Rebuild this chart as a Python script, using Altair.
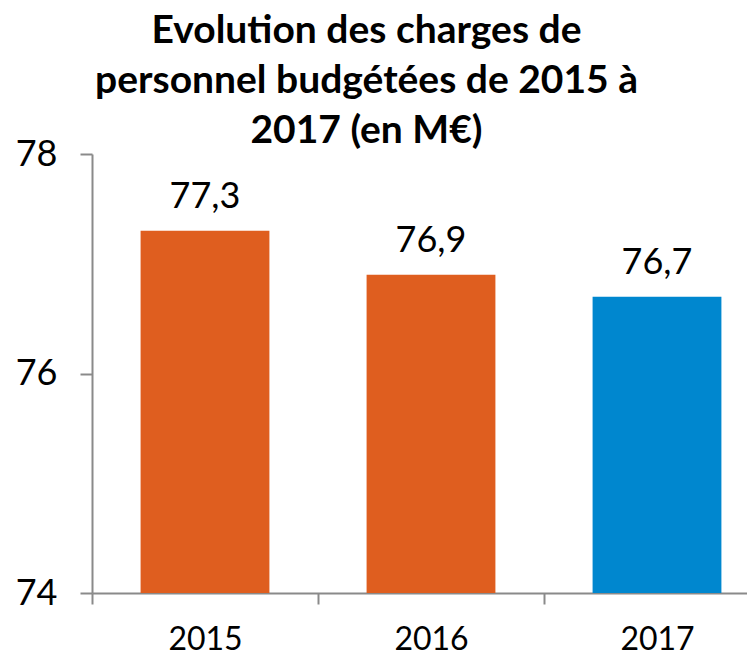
import altair as alt
import pandas as pd

years = ["2015", "2016", "2017"]
values = [77.3, 76.9, 76.7]
labels = ["77,3", "76,9", "76,7"]
colors = ["#DF5E1F", "#DF5E1F", "#0087CF"]
y_ticks = [74, 76, 78]
title_lines = ["Evolution des charges de", "personnel budgétées de 2015 à", "2017 (en M€)"]

df = pd.DataFrame({"year": years, "value": values, "label": labels, "color": colors})

FONT = "Lato"
AXIS_COLOR = "#8A8A8A"

x_enc = alt.X(
    "year:N",
    sort=years,
    scale=alt.Scale(range=[0, 678], paddingInner=0, paddingOuter=0),
    axis=alt.Axis(
        title=None, labelAngle=0, tickBand="extent", labelFont=FONT, labelFontSize=32,
        labelColor="black", labelPadding=20, tickSize=11, tickColor=AXIS_COLOR,
        domainColor=AXIS_COLOR, tickWidth=2, domainWidth=2, labelBaseline="top",
    ),
)
y_enc = alt.Y(
    "value:Q",
    scale=alt.Scale(domain=[y_ticks[0], y_ticks[-1]], zero=False, nice=False),
    axis=alt.Axis(
        values=y_ticks, title=None, grid=False, labelFont=FONT, labelFontSize=36,
        labelColor="black", labelPadding=23, tickSize=12, tickColor=AXIS_COLOR,
        domainColor=AXIS_COLOR, tickWidth=2, domainWidth=2, format="d",
    ),
)

base = alt.Chart(df)

bars = base.mark_bar(width=alt.RelativeBandSize(0.57)).encode(
    x=x_enc,
    y=y_enc,
    y2=alt.datum(y_ticks[0]),
    color=alt.Color("color:N", scale=None),
)

text = base.mark_text(dy=-23, baseline="alphabetic", fontSize=36, font=FONT, color="black").encode(
    x=alt.X("year:N", sort=years),
    y=alt.Y("value:Q"),
    text="label:N",
)

chart = (
    alt.layer(bars, text)
    .properties(
        width=655,
        height=439,
        padding={"left": 84, "top": 146, "right": 0, "bottom": 62},
        autosize="none",
        title=alt.Title(
            title_lines, font=FONT, fontSize=39, fontWeight="bold", color="black",
            anchor="middle", dx=-53, lineHeight=50, baseline="alphabetic", offset=-46,
        ),
    )
    .configure_view(stroke=None)
)

chart.save("out.html", embed_options={"renderer": "svg", "actions": False})
